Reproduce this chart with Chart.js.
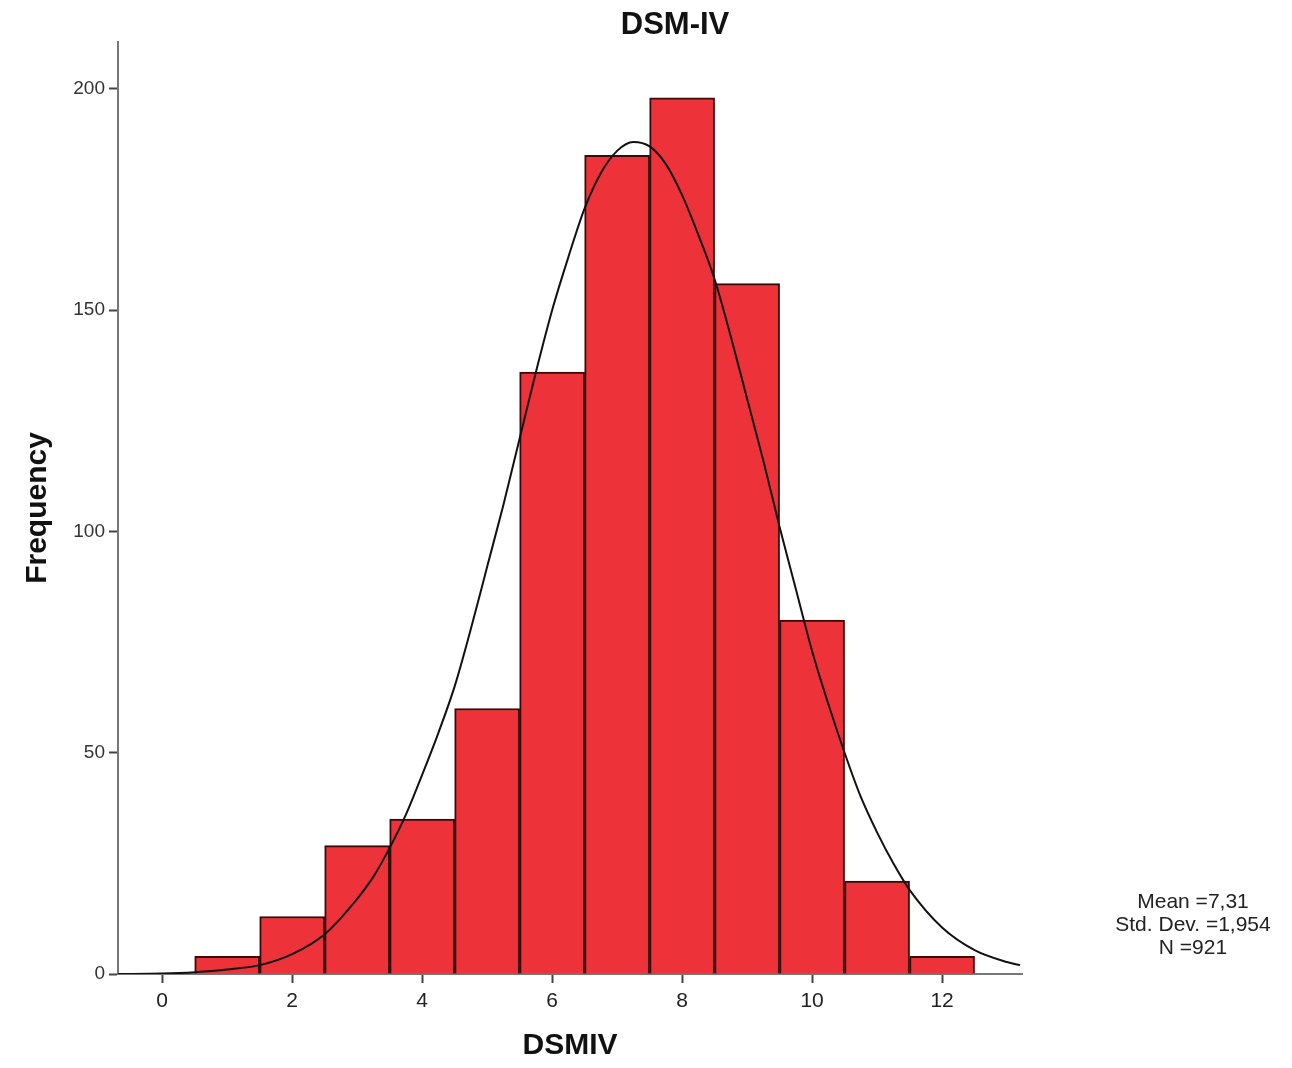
<!DOCTYPE html>
<html>
<head>
<meta charset="utf-8">
<script src="https://cdn.jsdelivr.net/npm/chart.js@4.4.1/dist/chart.umd.min.js"></script>
<style>
    html, body { margin: 0; padding: 0; background: #fff; }
    #wrap { width: 1292px; height: 1068px; }
</style>
</head>
<body>
<div id="wrap"><canvas id="histChart" width="1292" height="1068"></canvas></div>
<script>
// histograma DSM-IV con curva normal

const binCenters = [1, 2, 3, 4, 5, 6, 7, 8, 9, 10, 11, 12];
const frequencies = [4, 13, 29, 35, 60, 136, 185, 198, 156, 80, 21, 4];

// curva
const curveX = [-0.7, 0, 0.5, 1, 1.5, 2, 2.5, 3, 3.25, 3.5, 3.75, 4, 4.25, 4.5, 4.75, 5, 5.25, 5.5, 5.75, 6, 6.25, 6.5, 6.75, 7, 7.25, 7.5, 7.75, 8, 8.25, 8.5, 8.75, 9, 9.25, 9.5, 9.75, 10, 10.25, 10.5, 10.75, 11, 11.25, 11.5, 12, 12.5, 13, 13.2];
const curveY = [0, 0.1, 0.4, 1, 2, 4.5, 9, 17, 22, 28.5, 36, 45, 54.5, 65, 78, 92, 106, 121, 136, 150, 162, 173, 181, 186, 188, 187, 183, 176, 167, 157, 144, 130, 116, 101, 87, 73, 61, 50, 40, 32, 25, 19, 10.5, 5.4, 2.7, 2];

const xTicks = [0, 2, 4, 6, 8, 10, 12];
const yTicks = [0, 50, 100, 150, 200];
const statsLines = ['Mean =7,31', 'Std. Dev. =1,954', 'N =921'];

const textColor = '#222';
const axisColor = '#777';

// Título y cuadro de estadísticas
const extraText = {
    id: 'extraText',
    afterDraw(chart) {
        const ctx = chart.ctx;
        ctx.save();
        ctx.fillStyle = '#111';
        ctx.textAlign = 'center';
        ctx.textBaseline = 'middle';
        ctx.font = 'bold 31px "Liberation Sans", Arial, sans-serif';
        ctx.fillText('DSM-IV', 675, 25);

        ctx.fillStyle = textColor;
        ctx.font = '21px "Liberation Sans Narrow", "Liberation Sans", Arial, sans-serif';
        statsLines.forEach((line, i) => {
            ctx.fillText(line, 1193, 902 + i * 23);
        });
        ctx.restore();
    }
};

const ctx = document.getElementById('histChart');
const histChart = new Chart(ctx, {
    type: 'bar',
    data: {
        datasets: [
            {
                type: 'line',
                data: curveX.map((x, i) => ({ x: x, y: curveY[i] })),
                borderColor: '#111',
                borderWidth: 2,
                pointRadius: 0,
                cubicInterpolationMode: 'monotone',
                fill: false,
                order: 0
            },
            {
                type: 'bar',
                data: binCenters.map((x, i) => ({ x: x, y: frequencies[i] })),
                backgroundColor: '#ee3239',
                borderColor: '#3a0a0a',
                borderWidth: 2,
                barPercentage: 1,
                categoryPercentage: 1,
                order: 1
            }
        ]
    },
    options: {
        responsive: false,
        animation: false,
        devicePixelRatio: 1,
        layout: {
            padding: { top: 42, right: 270, left: 0, bottom: 0 }
        },
        plugins: {
            legend: { display: false },
            title: { display: false },
            tooltip: { enabled: false }
        },
        scales: {
            x: {
                type: 'linear',
                min: -0.68,
                max: 13.23,
                offset: false,
                afterBuildTicks: (scale) => { scale.ticks = xTicks.map(v => ({ value: v })); },
                afterFit: (scale) => { scale.height = 94; },
                grid: {
                    offset: false,
                    drawOnChartArea: false,
                    drawTicks: true,
                    tickLength: 9,
                    tickWidth: 2,
                    color: '#444'
                },
                border: { display: true, color: axisColor, width: 2 },
                ticks: {
                    color: textColor,
                    padding: 6,
                    font: { family: '"Liberation Sans", Arial, sans-serif', size: 21 }
                },
                title: {
                    display: true,
                    text: 'DSMIV',
                    color: '#111',
                    padding: { top: 0, bottom: 4 },
                    font: { family: '"Liberation Sans", Arial, sans-serif', size: 30, weight: 'bold' }
                }
            },
            y: {
                min: 0,
                max: 210.6,
                afterBuildTicks: (scale) => { scale.ticks = yTicks.map(v => ({ value: v })); },
                afterFit: (scale) => { scale.width = 118; },
                grid: {
                    drawOnChartArea: false,
                    drawTicks: true,
                    tickLength: 9,
                    tickWidth: 2,
                    color: '#444'
                },
                border: { display: true, color: axisColor, width: 2 },
                ticks: {
                    color: '#333',
                    padding: 4,
                    font: { family: '"Liberation Sans Narrow", "Liberation Sans", Arial, sans-serif', size: 19 }
                },
                title: {
                    display: true,
                    text: 'Frequency',
                    color: '#111',
                    padding: { top: 20, bottom: 0 },
                    font: { family: '"Liberation Sans", Arial, sans-serif', size: 30, weight: 'bold' }
                }
            }
        }
    },
    plugins: [extraText]
});
</script>
</body>
</html>
